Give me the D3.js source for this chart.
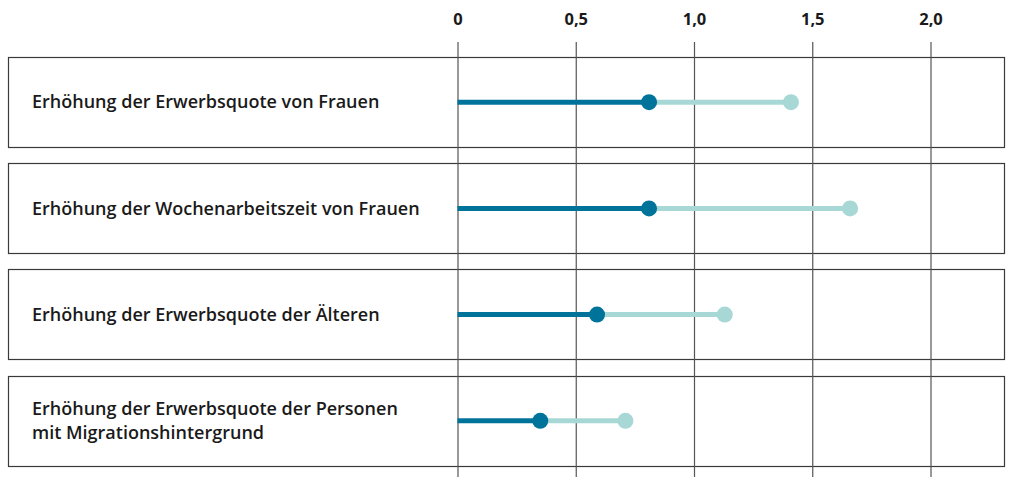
<!DOCTYPE html>
<html>
<head>
<meta charset="utf-8">
<script src="https://cdn.jsdelivr.net/npm/d3@7"></script>
<style>
  body { margin: 0; background: #fff; }
  svg { display: block; font-family: "Open Sans", sans-serif; }
</style>
</head>
<body>
<div id="chart"></div>
<script>
// measures, two lines for the last one
var categories = [
  ["Erhöhung der Erwerbsquote von Frauen"],
  ["Erhöhung der Wochenarbeitszeit von Frauen"],
  ["Erhöhung der Erwerbsquote der Älteren"],
  ["Erhöhung der Erwerbsquote der Personen", "mit Migrationshintergrund"]
]
var valuesA = [0.81, 0.81, 0.59, 0.35]
var valuesB = [1.41, 1.66, 1.13, 0.71]
var ticks = [0, 0.5, 1.0, 1.5, 2.0]
var tickLabels = ["0", "0,5", "1,0", "1,5", "2,0"]

var width = 1009, height = 477
var darkColor = "#00739b", lightColor = "#a7d8d5"

var svg = d3.select("#chart").append("svg")
    .attr("width", width)
    .attr("height", height)

var x = d3.scaleLinear()
    .domain([0, 2])
    .range([457.5, 930.5])

var y = d3.scaleBand()
    .domain(d3.range(categories.length))
    .range([57, 466])
    .paddingInner(0.15)
    .paddingOuter(0)

// boxes
svg.selectAll(".box")
  .data(categories)
  .enter().append("rect")
    .attr("class", "box")
    .attr("x", 8.5)
    .attr("y", (d, i) => Math.round(y(i)) + 0.5)
    .attr("width", 996)
    .attr("height", Math.round(y.bandwidth()))
    .attr("fill", "none")
    .attr("stroke", "#3a3a3a")
    .attr("stroke-width", 1.2)

// grid lines + tick labels
var axis = d3.axisTop(x)
    .tickValues(ticks)
    .tickFormat((d, i) => tickLabels[i])
    .tickSize(-(height - 42))
    .tickPadding(17)

var gAxis = svg.append("g")
    .attr("transform", "translate(0,42)")
    .call(axis)

gAxis.select(".domain").remove()
gAxis.selectAll("line").attr("stroke", "#555").attr("stroke-width", 1.2)
gAxis.selectAll("text")
    .attr("fill", "#1a1a1a")
    .attr("font-size", "16.5px")
    .attr("font-weight", "bold")
    .attr("font-family", "'Open Sans', sans-serif")

var rowMid = i => y(i) + y.bandwidth() / 2

// labels
var labels = svg.selectAll(".label")
  .data(categories)
  .enter().append("text")
    .attr("class", "label")
    .attr("x", 32)
    .attr("y", (d, i) => rowMid(i) - (d.length - 1) * 12)
    .attr("fill", "#1a1a1a")
    .attr("font-size", "18px")
    .attr("font-weight", 600)

labels.selectAll("tspan")
  .data(d => d)
  .enter().append("tspan")
    .attr("x", 32)
    .attr("dy", (d, i) => i === 0 ? "0.35em" : 24)
    .text(d => d)

// light segment
svg.selectAll(".segB")
  .data(valuesB)
  .enter().append("line")
    .attr("x1", (d, i) => x(valuesA[i]))
    .attr("x2", d => x(d))
    .attr("y1", (d, i) => rowMid(i))
    .attr("y2", (d, i) => rowMid(i))
    .attr("stroke", lightColor)
    .attr("stroke-width", 5)

// dark segment
svg.selectAll(".segA")
  .data(valuesA)
  .enter().append("line")
    .attr("x1", x(0))
    .attr("x2", d => x(d))
    .attr("y1", (d, i) => rowMid(i))
    .attr("y2", (d, i) => rowMid(i))
    .attr("stroke", darkColor)
    .attr("stroke-width", 5)

svg.selectAll(".dotB")
  .data(valuesB)
  .enter().append("circle")
    .attr("cx", d => x(d))
    .attr("cy", (d, i) => rowMid(i))
    .attr("r", 8)
    .attr("fill", lightColor)

svg.selectAll(".dotA")
  .data(valuesA)
  .enter().append("circle")
    .attr("cx", d => x(d))
    .attr("cy", (d, i) => rowMid(i))
    .attr("r", 8)
    .attr("fill", darkColor)
</script>
</body>
</html>
